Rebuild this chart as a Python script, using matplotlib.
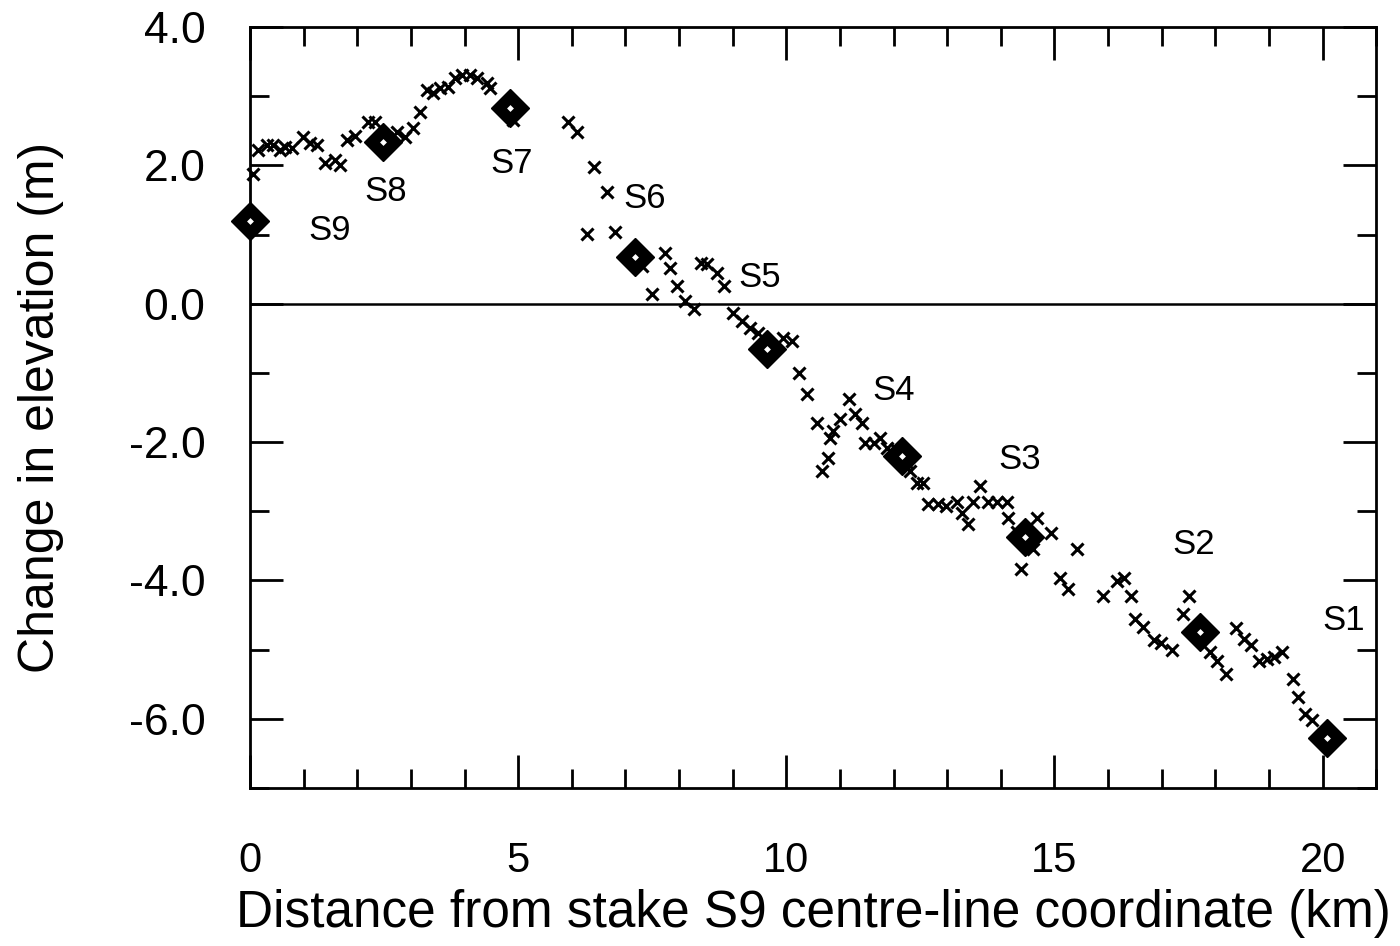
import matplotlib
matplotlib.use('Agg')
import matplotlib.pyplot as plt
from matplotlib.ticker import MultipleLocator, FormatStrFormatter

plt.rcParams['font.family'] = ['Liberation Sans', 'DejaVu Sans']
plt.rcParams['axes.unicode_minus'] = False

# surveyed profile points (km, m)
profile_x = [0.06, 0.15, 0.32, 0.43, 0.56, 0.65, 0.78, 0.99, 1.12, 1.25,
             1.40, 1.59, 1.68, 1.81, 1.96, 2.20, 2.33, 2.55, 2.74, 2.89,
             3.04, 3.17, 3.30, 3.41, 3.54, 3.69, 3.82, 3.96, 4.10, 4.23,
             4.42, 4.48, 4.90, 5.93, 6.10, 6.42, 6.66, 6.29, 6.81, 7.30,
             7.74, 7.84, 7.50, 7.97, 8.11, 8.27, 8.40, 8.53, 8.71, 8.83,
             9.01, 9.18, 9.33, 9.48, 9.94, 10.10, 10.24, 10.39, 10.58, 10.82,
             10.88, 11.00, 10.78, 10.67, 11.16, 11.29, 11.42, 11.47, 11.63, 11.75,
             11.88, 12.05, 12.25, 12.31, 12.44, 12.55, 12.65, 12.82, 12.97, 13.19,
             13.28, 13.38, 13.49, 13.62, 13.77, 13.93, 14.12, 14.14, 14.30, 14.60,
             14.68, 14.93, 14.37, 15.43, 15.11, 15.26, 15.90, 16.17, 16.29, 16.42,
             16.51, 16.66, 16.85, 16.98, 17.20, 17.39, 17.50, 17.91, 18.04, 18.19,
             18.38, 18.53, 18.66, 18.81, 18.97, 19.09, 19.25, 19.44, 19.55, 19.68,
             19.81]
profile_dz = [1.88, 2.22, 2.29, 2.29, 2.22, 2.26, 2.25, 2.41, 2.33, 2.29,
              2.03, 2.07, 2.00, 2.36, 2.43, 2.62, 2.62, 2.40, 2.48, 2.41,
              2.54, 2.77, 3.09, 3.04, 3.12, 3.13, 3.26, 3.30, 3.30, 3.26,
              3.19, 3.12, 2.65, 2.62, 2.48, 1.97, 1.61, 1.01, 1.03, 0.55,
              0.74, 0.52, 0.14, 0.26, 0.04, -0.07, 0.59, 0.58, 0.45, 0.26,
              -0.13, -0.25, -0.35, -0.43, -0.49, -0.54, -1.00, -1.31, -1.72, -1.94,
              -1.84, -1.67, -2.23, -2.42, -1.38, -1.60, -1.72, -2.01, -2.01, -1.94,
              -2.09, -2.10, -2.30, -2.42, -2.59, -2.59, -2.90, -2.90, -2.93, -2.86,
              -3.03, -3.19, -2.86, -2.64, -2.86, -2.86, -2.86, -3.10, -3.30, -3.55,
              -3.10, -3.32, -3.83, -3.54, -3.97, -4.12, -4.23, -4.01, -3.97, -4.23,
              -4.56, -4.67, -4.86, -4.91, -5.00, -4.48, -4.23, -5.03, -5.17, -5.35,
              -4.69, -4.84, -4.93, -5.17, -5.13, -5.10, -5.03, -5.42, -5.68, -5.93,
              -6.01]

# stakes
stake_names = ['S9', 'S8', 'S7', 'S6', 'S5', 'S4', 'S3', 'S2', 'S1']
stake_x = [0.0, 2.48, 4.85, 7.18, 9.64, 12.16, 14.46, 17.72, 20.09]
stake_dz = [1.20, 2.34, 2.83, 0.68, -0.66, -2.20, -3.37, -4.74, -6.27]

# label offsets (points)
label_off = [(57, -7), (2, -36), (1, -40), (7, 42), (-5, 52),
             (-6, 47), (-4, 56), (-5, 63), (12, 84)]

fig = plt.figure(figsize=(14, 9.46), dpi=100)
ax = fig.add_axes([0.1786, 0.167, 0.8044, 0.8045])

ax.axhline(0, color='k', lw=1.8, zorder=1)
ax.plot(profile_x, profile_dz, 'x', color='k', markersize=9, markeredgewidth=2.2,
        clip_on=False, zorder=2)
ax.plot(stake_x, stake_dz, 'D', color='k', markersize=19, markeredgewidth=1,
        clip_on=False, zorder=3)
ax.plot(stake_x, stake_dz, 'D', color='white', markersize=3.5, markeredgewidth=0,
        clip_on=False, zorder=4)

for i, name in enumerate(stake_names):
  ax.annotate(name, (stake_x[i], stake_dz[i]), xytext=label_off[i],
              textcoords='offset points', ha='center', va='center', fontsize=25)

ax.set_xlim(0, 21)
ax.set_ylim(-7, 4)
ax.xaxis.set_major_locator(MultipleLocator(5))
ax.xaxis.set_minor_locator(MultipleLocator(1))
ax.yaxis.set_major_locator(MultipleLocator(2))
ax.yaxis.set_minor_locator(MultipleLocator(1))
ax.yaxis.set_major_formatter(FormatStrFormatter('%.1f'))

ax.tick_params(which='both', direction='in', top=True, right=True, width=2)
ax.tick_params(which='major', length=24)
ax.tick_params(which='minor', length=14)
ax.tick_params(axis='x', which='major', labelsize=30, pad=38)
ax.tick_params(axis='y', which='major', labelsize=32, pad=32)
for s in ax.spines.values():
  s.set_linewidth(2)

ax.set_xlabel('Distance from stake S9 centre-line coordinate (km)', fontsize=37, labelpad=6)
ax.set_ylabel('Change in elevation (m)', fontsize=36)
ax.yaxis.set_label_coords(-0.165, 0.5)

plt.savefig('out.png', dpi=100)
